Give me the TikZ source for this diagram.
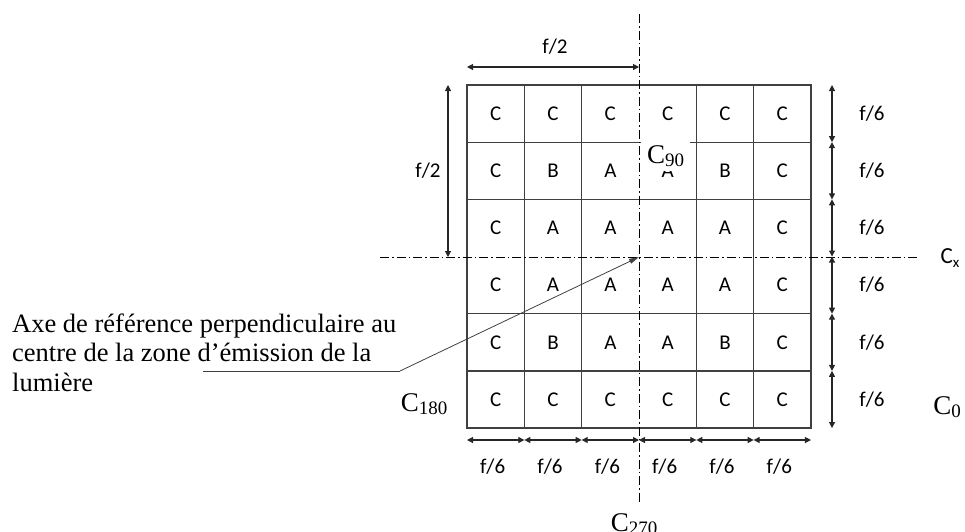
\documentclass[tikz,border=0pt]{standalone}
\usepackage{fontspec}
\setmainfont{Liberation Serif}
\setsansfont{Carlito}
\usetikzlibrary{arrows.meta}
\definecolor{gridc}{HTML}{404040}
\tikzset{
  gridline/.style={draw=gridc, line width=1.3pt},
  axisline/.style={draw=black, line width=0.8pt, dash pattern=on 9pt off 3pt on 1.5pt off 3pt},
  dimarrow/.style={draw=black!85, line width=1.1pt, {Triangle[length=6pt,width=6pt]}-{Triangle[length=6pt,width=6pt]}},
  cell/.style={font=\sffamily\fontsize{21}{24}\selectfont, inner sep=0pt},
  dimlabel/.style={font=\sffamily\fontsize{21}{24}\selectfont, inner sep=0pt},
  clabel/.style={font=\fontsize{27}{30}\selectfont, inner sep=0pt},
  desc/.style={font=\fontsize{26.5}{29.5}\selectfont, inner sep=0pt, anchor=base west},
  leader/.style={draw=black!75, line width=0.8pt}
}
\newcommand{\csub}[2]{C\raisebox{-3pt}{\fontsize{19}{20}\selectfont #2}}
\begin{document}
\begin{tikzpicture}[x=1pt,y=-1pt]
\useasboundingbox (0,0) rectangle (965,531);
% cell letters
\def\cw{57.33}
\def\ch{57.17}
\foreach \r/\row in {0/{C,C,C,C,C,C},1/{C,B,A,A,B,C},2/{C,A,A,A,A,C},3/{C,A,A,A,A,C},4/{C,B,A,A,B,C},5/{C,C,C,C,C,C}}{
  \foreach \l [count=\c from 0] in \row {
    \node[cell] (c\r\c) at ({467+\cw*(\c+0.5)},{85+\ch*(\r+0.5)}) {\l};
  }
}
% grid
\coordinate (g0) at (467,85);
\coordinate (g1) at (811,428);
\draw[gridline] (g0) rectangle (g1);
\foreach \i in {1,2,4,5}{
  \draw[gridline] ({467+\cw*\i},85) -- ({467+\cw*\i},428);
  \draw[gridline] (467,{85+\ch*\i}) -- (811,{85+\ch*\i});
}
% axes
\coordinate (O) at (639,257);
\coordinate (vt) at (639,14);
\coordinate (vb) at (639,502);
\coordinate (hl) at (380,257);
\coordinate (hr) at (920,257);
\draw[axisline] (vt) -- (vb);
\draw[axisline] (hl) -- (hr);
% top f/2
\coordinate (ta) at (467,67);
\coordinate (tb) at (639,67);
\draw[dimarrow] (ta) -- (tb);
\node[dimlabel] (tf2) at (555,47) {f/2};
% left f/2
\coordinate (la) at (448,85);
\coordinate (lb) at (448,257);
\draw[dimarrow] (la) -- (lb);
\node[dimlabel] (lf2) at (428,171) {f/2};
% right f/6
\foreach \i in {0,...,5}{
  \coordinate (ra\i) at (832,{85+\ch*\i});
  \coordinate (rb\i) at (832,{85+\ch*(\i+1)});
  \draw[dimarrow] (ra\i) -- (rb\i);
  \node[dimlabel] (rf\i) at (872,{85+\ch*(\i+0.5)}) {f/6};
}
% bottom f/6
\foreach \i in {0,...,5}{
  \coordinate (ba\i) at ({467+\cw*\i},440);
  \coordinate (bb\i) at ({467+\cw*(\i+1)},440);
  \draw[dimarrow] (ba\i) -- (bb\i);
  \node[dimlabel] (bf\i) at ({467+\cw*(\i+0.5)-3},467) {f/6};
}
% C labels
\node[clabel, fill=white, minimum width=49pt, minimum height=31pt, anchor=north west] (c90) at (641,140) {\csub{C}{90}};
\node[clabel] (c180) at (424,404) {\csub{C}{180}};
\node[clabel] (c0) at (947,407) {\csub{C}{0}};
\node[clabel] (c270) at (634,524) {\csub{C}{270}};
\node[font=\sffamily\fontsize{23}{24}\selectfont, inner sep=0pt] (cx) at (950,258) {C\raisebox{-4pt}{\fontsize{15}{16}\selectfont x}};
% description
\node[desc] (d1) at (12,332) {Axe de référence perpendiculaire au};
\node[desc] (d2) at (12,361.5) {centre de la zone d’émission de la};
\node[desc] (d3) at (12,391) {lumière};
\coordinate (ls) at (203,371);
\coordinate (lk) at (400,371);
\draw[leader] (ls) -- (lk);
\draw[leader, -{Triangle[length=10pt,width=5pt]}] (lk) -- (O);
\end{tikzpicture}
\end{document}
